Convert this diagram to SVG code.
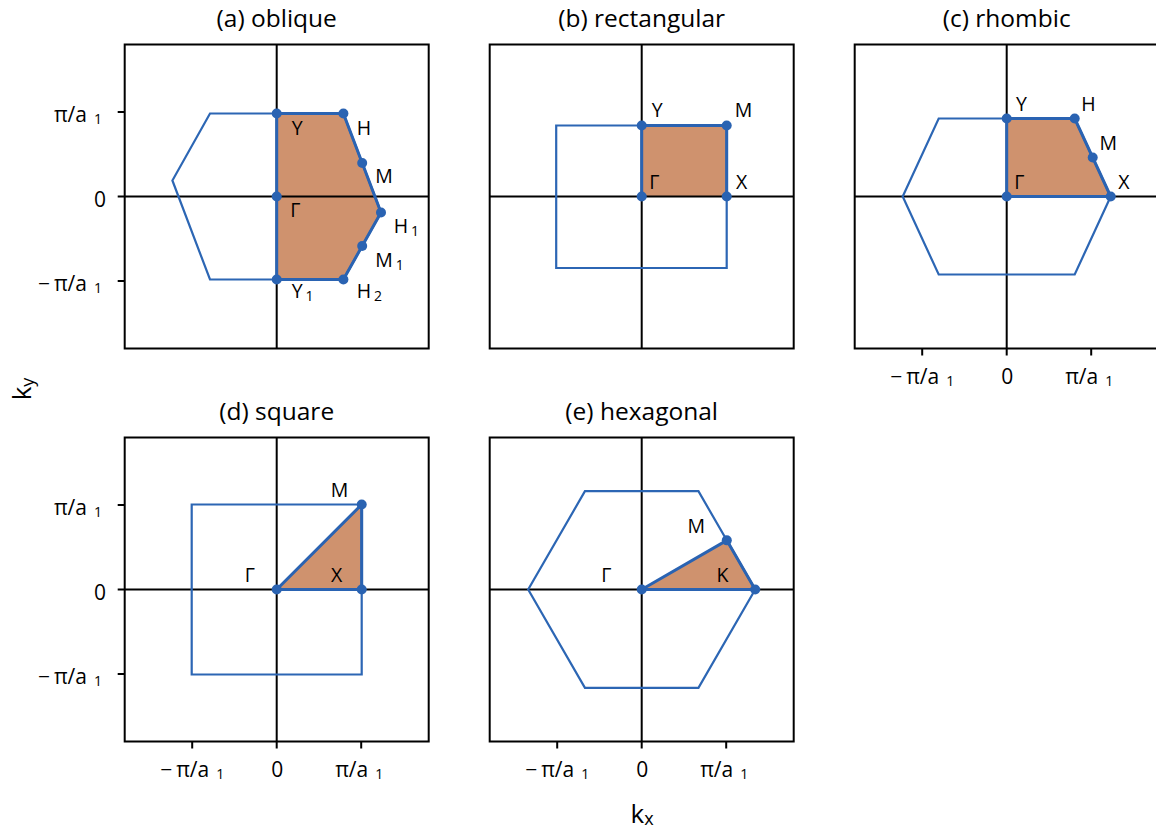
<svg xmlns="http://www.w3.org/2000/svg" width="1156" height="829" viewBox="0 0 1156 829">
<style>
text{font-family:"Open Sans","Noto Sans","DejaVu Sans",sans-serif;fill:#000}
.t{font-size:24.5px;text-anchor:middle}
.tk{font-size:21px}
.tm{font-size:21px;text-anchor:middle}
.lb{font-size:19.5px}
.lm{font-size:19.5px;text-anchor:middle}
.sb{font-size:14px}
.al{font-size:26px;text-anchor:middle}
.as{font-size:18px}
.fr{fill:none;stroke:#000;stroke-width:2}
.ax{fill:none;stroke:#000;stroke-width:2}
.bz{fill:none;stroke:#2c66b4;stroke-width:2.2;stroke-linejoin:miter}
.ibz{fill:#cf926e;stroke:none}
.ibl{fill:none;stroke:#2a63b2;stroke-width:3;stroke-linejoin:round}
.d{fill:#2a63b2}
</style>
<rect width="1156" height="829" fill="#fff"/>

<g id="panel-a" transform="translate(276.7,196.5)">
<text class="t" x="0" y="-169.5">(a) oblique</text>
<path class="ibz" d="M0,-83 H66.7 L104.3,16 L66.7,83 H0 Z"/>
<path class="ax" d="M-152,0 H152 M0,-152 V152"/>
<path class="bz" d="M-66.7,-83 H66.7 L104.3,16 L66.7,83 H-66.7 L-104.3,-16 Z"/>
<path class="ibl" d="M0,0 V-83 H66.7 L104.3,16 L66.7,83 H0 Z"/>
<circle class="d" cx="0" cy="-83" r="5"/>
<circle class="d" cx="66.7" cy="-83" r="5"/>
<circle class="d" cx="85.5" cy="-33.5" r="5"/>
<circle class="d" cx="104.3" cy="16" r="5"/>
<circle class="d" cx="85.5" cy="49.5" r="5"/>
<circle class="d" cx="66.7" cy="83" r="5"/>
<circle class="d" cx="0" cy="83" r="5"/>
<circle class="d" cx="0" cy="0" r="5"/>
<rect class="fr" x="-152" y="-152" width="304" height="304"/>
<path class="ax" d="M-152,-84.5 h-7 M-152,0 h-7 M-152,84.5 h-7"/>
<text class="tk" text-anchor="end" x="-174.7" y="-74.8">π/a<tspan class="sb" dx="7" dy="2">1</tspan></text>
<text class="tk" text-anchor="end" x="-170.7" y="10.2">0</text>
<text class="tk" text-anchor="end" x="-174.7" y="94.2">−<tspan dx="4">π/a</tspan><tspan class="sb" dx="7" dy="2">1</tspan></text>
<text class="lb" x="15" y="-61.5">Y</text>
<text class="lb" x="80" y="-61.5">H</text>
<text class="lb" x="98.5" y="-13.2">M</text>
<text class="lb" x="13.5" y="20.2">Γ</text>
<text class="lb" x="117" y="36.5">H<tspan class="sb" dx="3" dy="3">1</tspan></text>
<text class="lb" x="98.5" y="70.2">M<tspan class="sb" dx="3" dy="3">1</tspan></text>
<text class="lb" x="15" y="101.5">Y<tspan class="sb" dx="3" dy="3">1</tspan></text>
<text class="lb" x="80" y="101.5">H<tspan class="sb" dx="3" dy="3">2</tspan></text>
</g>

<g id="panel-b" transform="translate(641.7,196.5)">
<text class="t" x="0" y="-169.5">(b) rectangular</text>
<path class="ibz" d="M0,-71 H85 V0 H0 Z"/>
<path class="ax" d="M-152,0 H152 M0,-152 V152"/>
<path class="bz" d="M-85.5,-71 H85 V71.5 H-85.5 Z"/>
<path class="ibl" d="M0,0 V-71 H85 V0"/>
<circle class="d" cx="0" cy="0" r="5"/>
<circle class="d" cx="0" cy="-71" r="5"/>
<circle class="d" cx="85" cy="-71" r="5"/>
<circle class="d" cx="85" cy="0" r="5"/>
<rect class="fr" x="-152" y="-152" width="304" height="304"/>
<text class="lb" x="10" y="-79.8">Y</text>
<text class="lb" x="93" y="-79.2">M</text>
<text class="lb" x="7.5" y="-7.5">Γ</text>
<text class="lb" x="94.3" y="-7.5">X</text>
</g>

<g id="panel-c" transform="translate(1006.7,196.5)">
<text class="t" x="0" y="-169.5">(c) rhombic</text>
<path class="ibz" d="M0,-78 H68 L104,0 H0 Z"/>
<path class="ax" d="M-152,0 H152 M0,-152 V152"/>
<path class="bz" d="M-68,-78 H68 L104,0 L68,78 H-68 L-104,0 Z"/>
<path class="ibl" d="M0,0 V-78 H68 L104,0 Z"/>
<circle class="d" cx="0" cy="-78" r="5"/>
<circle class="d" cx="68" cy="-78" r="5"/>
<circle class="d" cx="86" cy="-39" r="5"/>
<circle class="d" cx="104" cy="0" r="5"/>
<circle class="d" cx="0" cy="0" r="5"/>
<rect class="fr" x="-152" y="-152" width="304" height="304"/>
<path class="ax" d="M-84.5,152 v7 M0,152 v7 M84.5,152 v7"/>
<text class="tm" x="-84.5" y="187">−<tspan dx="4">π/a</tspan><tspan class="sb" dx="7" dy="2">1</tspan></text>
<text class="tm" x="0.5" y="187">0</text>
<text class="tm" x="82.5" y="187">π/a<tspan class="sb" dx="7" dy="2">1</tspan></text>
<text class="lb" x="9.3" y="-85.8">Y</text>
<text class="lb" x="74.5" y="-85.8">H</text>
<text class="lb" x="92.8" y="-46.5">M</text>
<text class="lb" x="7.5" y="-7.5">Γ</text>
<text class="lb" x="111.6" y="-7.2">X</text>
</g>

<g id="panel-d" transform="translate(276.7,589.5)">
<text class="t" x="0" y="-169.5">(d) square</text>
<path class="ibz" d="M0,0 H85 V-85 Z"/>
<path class="ax" d="M-152,0 H152 M0,-152 V152"/>
<path class="bz" d="M-85,-85 H85 V85 H-85 Z"/>
<path class="ibl" d="M0,0 H85 V-85 Z"/>
<circle class="d" cx="0" cy="0" r="5"/>
<circle class="d" cx="85" cy="0" r="5"/>
<circle class="d" cx="85" cy="-85" r="5"/>
<rect class="fr" x="-152" y="-152" width="304" height="304"/>
<path class="ax" d="M-152,-84.5 h-7 M-152,0 h-7 M-152,84.5 h-7 M-84.5,152 v7 M0,152 v7 M84.5,152 v7"/>
<text class="tk" text-anchor="end" x="-174.7" y="-74.8">π/a<tspan class="sb" dx="7" dy="2">1</tspan></text>
<text class="tk" text-anchor="end" x="-170.7" y="10.2">0</text>
<text class="tk" text-anchor="end" x="-174.7" y="94.2">−<tspan dx="4">π/a</tspan><tspan class="sb" dx="7" dy="2">1</tspan></text>
<text class="tm" x="-84.5" y="187.5">−<tspan dx="4">π/a</tspan><tspan class="sb" dx="7" dy="2">1</tspan></text>
<text class="tm" x="0.5" y="187.5">0</text>
<text class="tm" x="82.5" y="187.5">π/a<tspan class="sb" dx="7" dy="2">1</tspan></text>
<text class="lm" x="62.8" y="-92.8">M</text>
<text class="lm" x="-27" y="-7.8">Γ</text>
<text class="lm" x="60" y="-7.8">X</text>
</g>

<g id="panel-e" transform="translate(641.7,589.5)">
<text class="t" x="0" y="-169.5">(e) hexagonal</text>
<path class="ibz" d="M0,0 H113.5 L85.1,-49.15 Z"/>
<path class="ax" d="M-152,0 H152 M0,-152 V152"/>
<path class="bz" d="M-56.75,-98.3 H56.75 L113.5,0 L56.75,98.3 H-56.75 L-113.5,0 Z"/>
<path class="ibl" d="M0,0 H113.5 L85.1,-49.15 Z"/>
<circle class="d" cx="0" cy="0" r="5"/>
<circle class="d" cx="113.5" cy="0" r="5"/>
<circle class="d" cx="85.1" cy="-49.15" r="5"/>
<rect class="fr" x="-152" y="-152" width="304" height="304"/>
<path class="ax" d="M-84.5,152 v7 M0,152 v7 M84.5,152 v7"/>
<text class="tm" x="-84.5" y="187.5">−<tspan dx="4">π/a</tspan><tspan class="sb" dx="7" dy="2">1</tspan></text>
<text class="tm" x="0.5" y="187.5">0</text>
<text class="tm" x="82.5" y="187.5">π/a<tspan class="sb" dx="7" dy="2">1</tspan></text>
<text class="lm" x="54.5" y="-56.8">M</text>
<text class="lm" x="-35.4" y="-7.8">Γ</text>
<text class="lm" x="80.8" y="-7.8">K</text>
</g>

<g id="axis-labels">
<text class="al" x="642" y="822.7">k<tspan class="as" dy="2.5">x</tspan></text>
<text class="al" transform="translate(31,389) rotate(-90)">k<tspan class="as" dy="2.5">y</tspan></text>
</g>
</svg>
